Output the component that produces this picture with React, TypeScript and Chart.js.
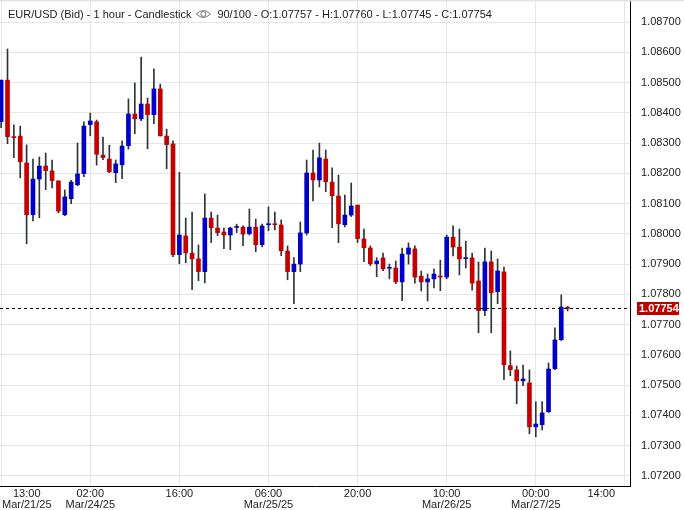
import { useEffect, useRef } from 'react';
import { Chart, registerables } from 'chart.js';

Chart.register(...registerables);

const OPEN = [
  1.08371, 1.08508, 1.08320, 1.08323, 1.08234, 1.08063, 1.08181, 1.08224, 1.08208, 1.08175,
  1.08063, 1.08116, 1.08162, 1.08199, 1.08361, 1.08370, 1.08260, 1.08247, 1.08202, 1.08228,
  1.08291, 1.08396, 1.08380, 1.08429, 1.08394, 1.08479, 1.08323, 1.08297, 1.07931, 1.07993,
  1.07936, 1.07917, 1.07875, 1.08052, 1.08019, 1.08006, 1.07996, 1.08021, 1.08022, 1.08000,
  1.08022, 1.07964, 1.08030, 1.08032, 1.08029, 1.07943, 1.07875, 1.07900, 1.08003, 1.08201,
  1.08178, 1.08247, 1.08171, 1.08125, 1.08030, 1.08062, 1.08095, 1.07983, 1.07953, 1.07901,
  1.07920, 1.07886, 1.07887, 1.07841, 1.07933, 1.07950, 1.07860, 1.07841, 1.07851, 1.07859,
  1.07857, 1.07989, 1.07956, 1.07918, 1.07920, 1.07844, 1.07746, 1.07907, 1.07809, 1.07874,
  1.07564, 1.07550, 1.07514, 1.07507, 1.07362, 1.07369, 1.07412, 1.07554, 1.07650, 1.07757,
];

const HIGH = [
  1.08508, 1.08611, 1.08360, 1.08356, 1.08294, 1.08247, 1.08254, 1.08267, 1.08244, 1.08175,
  1.08145, 1.08177, 1.08300, 1.08370, 1.08399, 1.08376, 1.08320, 1.08293, 1.08244, 1.08307,
  1.08446, 1.08499, 1.08584, 1.08449, 1.08545, 1.08495, 1.08346, 1.08307, 1.08203, 1.08052,
  1.08072, 1.07963, 1.08132, 1.08072, 1.08062, 1.08019, 1.08022, 1.08032, 1.08026, 1.08082,
  1.08049, 1.08032, 1.08089, 1.08072, 1.08046, 1.07960, 1.07921, 1.08039, 1.08244, 1.08277,
  1.08300, 1.08277, 1.08218, 1.08194, 1.08128, 1.08168, 1.08095, 1.08016, 1.07960, 1.07921,
  1.07936, 1.07900, 1.07910, 1.07953, 1.07970, 1.07960, 1.07877, 1.07867, 1.07884, 1.07913,
  1.07996, 1.08026, 1.08016, 1.07976, 1.07936, 1.07907, 1.07953, 1.07943, 1.07917, 1.07890,
  1.07613, 1.07563, 1.07566, 1.07550, 1.07445, 1.07445, 1.07573, 1.07689, 1.07798, 1.07760,
];

const LOW = [
  1.08351, 1.08298, 1.08252, 1.08185, 1.07967, 1.08043, 1.08053, 1.08146, 1.08152, 1.08069,
  1.08060, 1.08100, 1.08159, 1.08189, 1.08324, 1.08227, 1.08245, 1.08202, 1.08169, 1.08182,
  1.08280, 1.08331, 1.08374, 1.08281, 1.08364, 1.08323, 1.08215, 1.07924, 1.07901, 1.07904,
  1.07815, 1.07845, 1.07838, 1.07971, 1.07994, 1.07951, 1.07947, 1.08004, 1.07961, 1.07996,
  1.07941, 1.07957, 1.08010, 1.08013, 1.07928, 1.07848, 1.07769, 1.07875, 1.07996, 1.08109,
  1.08155, 1.08139, 1.08020, 1.07971, 1.08023, 1.08057, 1.07971, 1.07908, 1.07895, 1.07858,
  1.07878, 1.07851, 1.07835, 1.07779, 1.07900, 1.07837, 1.07811, 1.07778, 1.07821, 1.07812,
  1.07851, 1.07927, 1.07864, 1.07887, 1.07814, 1.07673, 1.07729, 1.07673, 1.07769, 1.07518,
  1.07531, 1.07438, 1.07498, 1.07339, 1.07329, 1.07352, 1.07409, 1.07551, 1.07647, 1.07745,
];

const CLOSE = [
  1.08508, 1.08321, 1.08318, 1.08238, 1.08063, 1.08181, 1.08224, 1.08209, 1.08176, 1.08075,
  1.08122, 1.08171, 1.08198, 1.08356, 1.08373, 1.08263, 1.08252, 1.08205, 1.08231, 1.08290,
  1.08396, 1.08380, 1.08429, 1.08394, 1.08479, 1.08324, 1.08295, 1.07931, 1.07996, 1.07937,
  1.07917, 1.07875, 1.08052, 1.08020, 1.08004, 1.07996, 1.08019, 1.08022, 1.07999, 1.08022,
  1.07964, 1.08026, 1.08032, 1.08030, 1.07944, 1.07875, 1.07900, 1.08003, 1.08201, 1.08178,
  1.08251, 1.08172, 1.08126, 1.08033, 1.08062, 1.08092, 1.07984, 1.07954, 1.07901, 1.07910,
  1.07884, 1.07887, 1.07841, 1.07933, 1.07953, 1.07857, 1.07841, 1.07851, 1.07867, 1.07857,
  1.07989, 1.07956, 1.07917, 1.07920, 1.07837, 1.07746, 1.07907, 1.07805, 1.07877, 1.07567,
  1.07551, 1.07514, 1.07520, 1.07362, 1.07371, 1.07408, 1.07553, 1.07649, 1.07758, 1.07754,
];

// x-axis ticks (bar index -> label)
const TICK_INDEX = [0, 14, 28, 42, 56, 70, 84, 98];
const TICK_TIME = ['13:00', '02:00', '16:00', '06:00', '20:00', '10:00', '00:00', '14:00'];
const TICK_DATE = ['Mar/21/25', 'Mar/24/25', '', 'Mar/25/25', '', 'Mar/26/25', 'Mar/27/25', ''];

const Y_TICKS = [
  1.072, 1.073, 1.074, 1.075, 1.076, 1.077, 1.078, 1.079,
  1.080, 1.081, 1.082, 1.083, 1.084, 1.085, 1.086, 1.087,
];

const LAST_PRICE = 1.07754;
const TITLE_LEFT = 'EUR/USD (Bid) - 1 hour - Candlestick';
const TITLE_RIGHT = '90/100 - O:1.07757 - H:1.07760 - L:1.07745 - C:1.07754';

const UP = '#0000c8';
const DOWN = '#c40000';
const WICK = '#2e3535';
const FONT = '"Liberation Sans", Arial, sans-serif';

const Y_MIN = 1.071663;
const Y_MAX = 1.087729;
const X_MIN = -0.18;
const X_MAX = 98.8;

const decorPlugin = {
  id: 'decor',
  beforeDraw(chart: any) {
    const { ctx, width, height } = chart;
    ctx.save();
    ctx.fillStyle = '#ffffff';
    ctx.fillRect(0, 0, width, height);
    ctx.restore();
  },
  afterDatasetsDraw(chart: any) {
    const { ctx, chartArea } = chart;
    const y = Math.round(chart.scales.y.getPixelForValue(LAST_PRICE)) + 0.5;
    ctx.save();
    ctx.strokeStyle = '#000000';
    ctx.lineWidth = 1;
    ctx.setLineDash([3, 3]);
    ctx.beginPath();
    ctx.moveTo(chartArea.left, y);
    ctx.lineTo(chartArea.right, y);
    ctx.stroke();
    ctx.restore();
  },
  afterDraw(chart: any) {
    const { ctx, chartArea, width } = chart;
    const xs = chart.scales.x;
    const ys = chart.scales.y;
    ctx.save();

    // top shade
    const g = ctx.createLinearGradient(0, 0, 0, 3);
    g.addColorStop(0, '#d6d6d6');
    g.addColorStop(1, 'rgba(255,255,255,0)');
    ctx.fillStyle = g;
    ctx.fillRect(0, 0, width, 3);

    // x labels (clamped inside plot)
    ctx.font = '11px ' + FONT;
    ctx.fillStyle = '#222222';
    ctx.textAlign = 'center';
    ctx.textBaseline = 'alphabetic';
    TICK_INDEX.forEach((ti, k) => {
      const px = xs.getPixelForValue(ti);
      const w = Math.max(ctx.measureText(TICK_TIME[k]).width, TICK_DATE[k] ? ctx.measureText(TICK_DATE[k]).width : 0);
      let cx = px;
      if (cx - w / 2 < 2) cx = 2 + w / 2;
      if (cx + w / 2 > chartArea.right - 15) cx = chartArea.right - 15 - w / 2;
      ctx.fillText(TICK_TIME[k], cx, 497);
      if (TICK_DATE[k]) ctx.fillText(TICK_DATE[k], cx, 508);
    });

    // last price tag
    const ty = ys.getPixelForValue(LAST_PRICE);
    ctx.fillStyle = '#c00000';
    ctx.fillRect(637, Math.round(ty) - 6, 42, 13);
    ctx.font = 'bold 11px ' + FONT;
    ctx.fillStyle = '#ffffff';
    ctx.textAlign = 'left';
    ctx.textBaseline = 'middle';
    ctx.fillText(LAST_PRICE.toFixed(5), 639, Math.round(ty) + 0.5);

    // header
    ctx.font = '11px ' + FONT;
    ctx.fillStyle = '#222222';
    ctx.textAlign = 'left';
    ctx.textBaseline = 'alphabetic';
    ctx.fillText(TITLE_LEFT, 8, 18);
    const w1 = ctx.measureText(TITLE_LEFT).width;
    const ex = 8 + w1 + 12;
    const ey = 14;
    ctx.strokeStyle = '#777777';
    ctx.lineWidth = 1;
    ctx.beginPath();
    ctx.moveTo(ex - 7, ey);
    ctx.quadraticCurveTo(ex, ey - 7, ex + 7, ey);
    ctx.quadraticCurveTo(ex, ey + 7, ex - 7, ey);
    ctx.stroke();
    ctx.beginPath();
    ctx.arc(ex, ey, 2.5, 0, Math.PI * 2);
    ctx.stroke();
    ctx.fillText(TITLE_RIGHT, ex + 14, 18);

    ctx.restore();
  },
};

export default function App() {
  const ref = useRef<HTMLCanvasElement>(null);

  useEffect(() => {
    const canvas = ref.current;
    if (!canvas) return;
    const idx = OPEN.map((_, i) => i);
    const chart = new Chart(canvas, {
      type: 'bar',
      data: {
        datasets: [
          {
            label: 'Body',
            data: idx.map((i) => ({ x: i, y: [OPEN[i], CLOSE[i]] })) as any,
            backgroundColor: idx.map((i) => (CLOSE[i] >= OPEN[i] ? UP : DOWN)),
            borderWidth: 0,
            barThickness: 4,
            minBarLength: 1,
            grouped: false,
            order: 0,
          } as any,
          {
            label: 'Wick',
            data: idx.map((i) => ({ x: i, y: [LOW[i], HIGH[i]] })) as any,
            backgroundColor: WICK,
            borderWidth: 0,
            barThickness: 1,
            grouped: false,
            order: 1,
          } as any,
        ],
      },
      options: {
        animation: false,
        responsive: false,
        maintainAspectRatio: false,
        devicePixelRatio: 1,
        layout: { padding: 0 },
        plugins: {
          legend: { display: false },
          tooltip: { enabled: false },
          title: { display: false },
        },
        scales: {
          x: {
            type: 'linear',
            min: X_MIN,
            max: X_MAX,
            offset: false,
            afterBuildTicks: (scale: any) => {
              scale.ticks = TICK_INDEX.map((v) => ({ value: v }));
            },
            afterFit: (scale: any) => {
              scale.height = 24;
              scale.paddingLeft = 0;
              scale.paddingRight = 0;
              scale.paddingTop = 0;
              scale.paddingBottom = 0;
            },
            ticks: { display: false },
            grid: { color: '#e6e6e6', lineWidth: 1, drawTicks: false, offset: false },
            border: { display: true, color: '#000000', width: 1 },
          },
          y: {
            type: 'linear',
            position: 'right',
            min: Y_MIN,
            max: Y_MAX,
            afterBuildTicks: (scale: any) => {
              scale.ticks = Y_TICKS.map((v) => ({ value: v }));
            },
            afterFit: (scale: any) => {
              scale.width = 54;
              scale.paddingTop = 0;
              scale.paddingBottom = 0;
              scale.paddingLeft = 0;
              scale.paddingRight = 0;
            },
            ticks: {
              padding: 11,
              color: '#222222',
              font: { size: 11, family: FONT },
              callback: (v: any) => Number(v).toFixed(5),
            },
            grid: { color: '#e6e6e6', lineWidth: 1, drawTicks: false },
            border: { display: true, color: '#000000', width: 1 },
          },
        },
      } as any,
      plugins: [decorPlugin],
    });
    return () => chart.destroy();
  }, []);

  return (
    <div style={{ position: 'fixed', left: 0, top: 0, width: 684, height: 510, background: '#ffffff' }}>
      <canvas ref={ref} width={684} height={510} style={{ display: 'block', width: 684, height: 510 }} />
    </div>
  );
}
